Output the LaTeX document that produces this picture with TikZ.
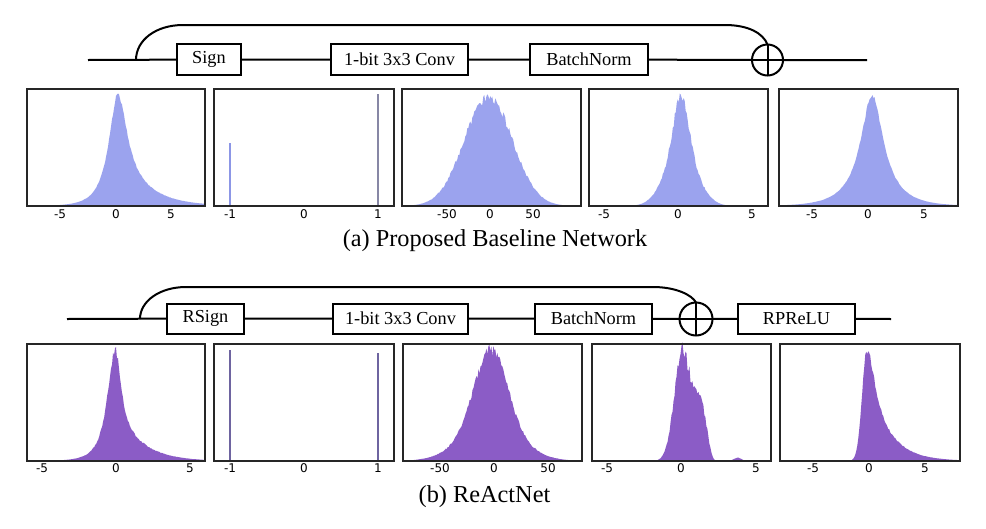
\documentclass[tikz,border=0pt]{standalone}
\usepackage{fontspec}
\setmainfont{Liberation Serif}
\newfontfamily\tickfont{DejaVu Sans}
\definecolor{topfill}{RGB}{155,163,238}
\definecolor{botfill}{RGB}{139,92,198}
\definecolor{spikeblue}{RGB}{140,150,230}
\definecolor{spikegray}{RGB}{135,135,165}
\definecolor{spikepurple}{RGB}{110,100,160}
\newcommand\myhist[7]{%
  \begin{scope}[shift={(#1,#2)}, x=#3pt, y=1pt]
    \fill[#6] (#4,0) -- plot[domain=#4:#5, samples=181] (\x,{#7}) -- (#5,0) -- cycle;
  \end{scope}}
\begin{document}
\begin{tikzpicture}[x=1pt,y=-1pt,
  wire/.style={line width=2pt, black},
  blk/.style={draw, line width=2pt, fill=white, inner sep=0pt, outer sep=0pt, font=\fontsize{18.3}{20}\selectfont},
  addop/.style={draw, circle, line width=2pt, inner sep=0pt, outer sep=0pt},
  frame/.style={draw=black!85, line width=1.1pt},
  ticklab/.style={font=\tickfont\fontsize{12}{14}\selectfont, inner sep=0pt},
  caption/.style={font=\fontsize{24.3}{28}\selectfont, inner sep=0pt},
  declare function={
    sechf(\t)=2*exp(-min(abs(\t),9))/(1+exp(-2*min(abs(\t),9)));
    gaussf(\t,\s)=exp(-min(\t*\t/(2*\s*\s),15));
  }]
\pgfmathsetseed{7}
\useasboundingbox (0,0) rectangle (986,528);

% ---------------- (a) top block row ----------------
\node[blk, minimum width=64pt, minimum height=31pt] (sign) at (209,59.5) {Sign};
\node[blk, minimum width=137pt, minimum height=31pt] (conv) at (399.5,59.5) {1-bit 3x3 Conv};
\node[blk, minimum width=118pt, minimum height=31pt] (bn) at (589,59.5) {BatchNorm};
\node[addop, minimum size=31pt] (plusA) at (767.5,60) {};
\coordinate (inA) at (88,60);
\coordinate (brA) at (136,60);
\coordinate (outA) at (867,60);
\draw[wire] (inA) -- (sign) -- (conv) -- (bn) -- (plusA) -- (outA);
\draw[wire] (plusA.north) -- (plusA.south) (plusA.west) -- (plusA.east);
\draw[wire] (brA) .. controls (136,40) and (156,25) .. (183,25) -- (725,25)
  .. controls (748,25) and (763,33) .. (plusA.north);

% ---------------- (a) histograms ----------------
\myhist{116}{206}{11.1}{-8}{8}{topfill}{111*((\x<0.15) ? (0.75*sechf((\x-0.15)/0.6)+0.25*sechf((\x-0.15)/1.3)) : (0.7*sechf((\x-0.15)/0.7)+0.3*sechf((\x-0.15)/2.3)))*(1+0.02*rand)}
\myhist{490}{206}{0.86}{-103}{106}{topfill}{109*gaussf(\x+2,28)*(1+0.05*rand)}
\myhist{678}{206}{14.9}{-5.95}{6.05}{topfill}{110*(0.5*gaussf(\x-0.2,0.5)+0.5*gaussf(\x-0.2,1.05))*(1+0.05*rand)}
\myhist{868}{206}{11.2}{-7.9}{8.0}{topfill}{111*(0.7*sechf((\x-0.36)/0.75)+0.3*sechf((\x-0.36)/1.8))*(1+0.02*rand)}
\draw[spikeblue, line width=2pt] (230,206) -- (230,143);
\draw[spikegray, line width=2pt] (378,206) -- (378,94);

\draw[frame] (27,89) rectangle (205,206);
\draw[frame] (214,89) rectangle (394,206);
\draw[frame] (402,89) rectangle (581,206);
\draw[frame] (589,89) rectangle (768,206);
\draw[frame] (779,89) rectangle (958,206);

\foreach \v/\p [count=\i] in {-5/60,0/116,5/171} \node[ticklab] (ta1\i) at (\p,214) {\v};
\foreach \v/\p [count=\i] in {-1/230,0/304,1/378} \node[ticklab] (ta2\i) at (\p,214) {\v};
\foreach \v/\p [count=\i] in {-50/447,0/490,50/533} \node[ticklab] (ta3\i) at (\p,214) {\v};
\foreach \v/\p [count=\i] in {-5/604,0/678,5/752} \node[ticklab] (ta4\i) at (\p,214) {\v};
\foreach \v/\p [count=\i] in {-5/812,0/868,5/924} \node[ticklab] (ta5\i) at (\p,214) {\v};

\node[caption] (capA) at (495,241) {(a) Proposed Baseline Network};

% ---------------- (b) bottom block row ----------------
\node[blk, minimum width=77pt, minimum height=30pt] (rsign) at (205.5,318.5) {RSign};
\node[blk, minimum width=135pt, minimum height=30pt] (convB) at (400.5,318.5) {1-bit 3x3 Conv};
\node[blk, minimum width=117pt, minimum height=30pt] (bnB) at (593.5,318.5) {BatchNorm};
\node[addop, minimum size=33pt] (plusB) at (696,319) {};
\node[blk, minimum width=117pt, minimum height=30pt] (rprelu) at (796.5,318.5) {RPReLU};
\coordinate (inB) at (67,319);
\coordinate (brB) at (140,319);
\coordinate (outB) at (891,319);
\draw[wire] (inB) -- (rsign) -- (convB) -- (bnB) -- (plusB) -- (rprelu) -- (outB);
\draw[wire] (plusB.north) -- (plusB.south) (plusB.west) -- (plusB.east);
\draw[wire] (brB) .. controls (140,301) and (160,287) .. (186,287) -- (653,287)
  .. controls (676,287) and (692,295) .. (plusB.north);

% ---------------- (b) histograms ----------------
\myhist{116}{461}{14.8}{-6}{6}{botfill}{111*((\x<-0.07) ? (0.8*sechf((\x+0.07)/0.4)+0.2*sechf((\x+0.07)/0.9)) : (0.7*sechf((\x+0.07)/0.35)+0.3*sechf((\x+0.07)/1.5)))*(1+0.04*rand)}
\myhist{494}{461}{1.083}{-84}{81}{botfill}{111*(0.7*gaussf(\x+3,15)+0.3*gaussf(\x+3,27))*(1+0.05*rand)}
\myhist{681}{461}{14.9}{-5.97}{6.04}{botfill}{111*(((\x<0.11) ? gaussf(\x-0.11,0.55) : (0.35*gaussf(\x-0.11,0.3536)+0.65*exp(-min((abs(\x-0.11)/1.7+0.0001)^6,15)))) + 0.03*gaussf(\x-3.8,0.25))*(1+0.07*rand)}
\myhist{869}{461}{11.2}{-8}{8.05}{botfill}{110*((\x<-0.18) ? gaussf(\x+0.18,0.44) : (0.6*sechf((\x+0.18)/0.6)+0.4*sechf((\x+0.18)/1.8)))*(1+0.03*rand)}
\draw[spikepurple, line width=2pt] (230,461) -- (230,350);
\draw[spikepurple, line width=2pt] (378,461) -- (378,353);

\draw[frame] (27,344) rectangle (205,461);
\draw[frame] (214,344) rectangle (394,461);
\draw[frame] (403,344) rectangle (582,461);
\draw[frame] (592,344) rectangle (771,461);
\draw[frame] (780,344) rectangle (960,461);

\foreach \v/\p [count=\i] in {-5/42,0/116,5/190} \node[ticklab] (tb1\i) at (\p,468) {\v};
\foreach \v/\p [count=\i] in {-1/230,0/304,1/378} \node[ticklab] (tb2\i) at (\p,468) {\v};
\foreach \v/\p [count=\i] in {-50/440,0/494,50/548} \node[ticklab] (tb3\i) at (\p,468) {\v};
\foreach \v/\p [count=\i] in {-5/607,0/681,5/756} \node[ticklab] (tb4\i) at (\p,468) {\v};
\foreach \v/\p [count=\i] in {-5/813,0/869,5/925} \node[ticklab] (tb5\i) at (\p,468) {\v};

\node[caption] (capB) at (484.5,497) {(b) ReActNet};
\end{tikzpicture}
\end{document}
